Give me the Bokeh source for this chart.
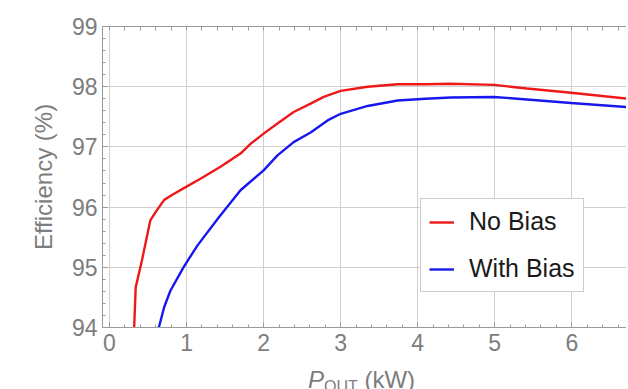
from bokeh.plotting import figure
from bokeh.models import (Range1d, LinearAxis, Legend, LegendItem, FixedTicker, Div)
from bokeh.layouts import column
from bokeh.embed import file_html
from bokeh.resources import INLINE

# ---- data ----
red_x = [0.32, 0.34, 0.42, 0.53, 0.60, 0.71, 0.81, 1.0, 1.18, 1.44, 1.70, 1.83, 2.0,
         2.18, 2.39, 2.61, 2.78, 3.0, 3.35, 3.74, 4.1, 4.43, 4.99, 5.42, 5.99, 6.74]
red_y = [94.0, 94.67, 95.11, 95.78, 95.92, 96.12, 96.2, 96.34, 96.47, 96.67, 96.89, 97.05, 97.22,
         97.39, 97.58, 97.72, 97.83, 97.93, 98.0, 98.04, 98.04, 98.05, 98.03, 97.97, 97.90, 97.80]
blue_x = [0.64, 0.71, 0.79, 0.96, 1.14, 1.42, 1.70, 2.0, 2.18, 2.39, 2.61, 2.83, 3.0,
          3.35, 3.74, 4.1, 4.43, 4.99, 5.5, 5.99, 6.74]
blue_y = [94.0, 94.34, 94.61, 95.0, 95.36, 95.83, 96.28, 96.61, 96.86, 97.08, 97.24, 97.44, 97.55,
          97.68, 97.77, 97.80, 97.82, 97.83, 97.78, 97.73, 97.66]
series_names = ["No Bias", "With Bias"]
x_ticks = [0, 1, 2, 3, 4, 5, 6]
y_ticks = [94, 95, 96, 97, 98, 99]

FONT = "Liberation Sans"
GREY = "#7d7d7d"
AXIS = "#9a9a9a"

W, H = 626, 362
p = figure(width=W, height=H, output_backend="svg", toolbar_location=None,
           x_range=Range1d(-0.091, 6.71), y_range=Range1d(94, 99),
           min_border_left=102, min_border_top=26, min_border_bottom=H - 327,
           min_border_right=0, outline_line_color=None)

r1 = p.line(red_x, red_y, line_color="#ee1818", line_width=2.4)
r2 = p.line(blue_x, blue_y, line_color="#1818ee", line_width=2.4)

for ax in (p.xaxis[0], p.yaxis[0]):
    ax.axis_line_color = AXIS
    ax.major_tick_line_color = AXIS
    ax.minor_tick_line_color = AXIS
    ax.major_tick_in = 5
    ax.major_tick_out = 0
    ax.minor_tick_in = 3
    ax.minor_tick_out = 0
    ax.major_label_text_font = FONT
    ax.major_label_text_color = GREY
    ax.major_label_text_font_size = "23px"

p.xaxis[0].ticker = FixedTicker(ticks=x_ticks,
                                minor_ticks=[t / 5 for t in range(-5, 36)])
p.yaxis[0].ticker = FixedTicker(ticks=y_ticks,
                                minor_ticks=[94 + t / 5 for t in range(0, 26)])
p.xaxis[0].major_label_standoff = 6
p.yaxis[0].major_label_standoff = 5
p.yaxis[0].axis_label = "Efficiency (%)"
p.yaxis[0].axis_label_text_font = FONT
p.yaxis[0].axis_label_text_font_style = "normal"
p.yaxis[0].axis_label_text_color = GREY
p.yaxis[0].axis_label_text_font_size = "24px"
p.yaxis[0].axis_label_standoff = 12

# top frame line with inward ticks only (no labels)
top = LinearAxis(ticker=FixedTicker(ticks=[], minor_ticks=[t / 5 for t in range(-5, 36)]),
                 axis_line_color=AXIS, major_tick_line_color=AXIS,
                 minor_tick_line_color=AXIS, major_tick_in=5, major_tick_out=0,
                 minor_tick_in=4, minor_tick_out=0,
                 major_label_standoff=0)
p.add_layout(top, "above")

p.xgrid.grid_line_color = "#cfcfcf"
p.ygrid.grid_line_color = "#cfcfcf"
p.xgrid.ticker = FixedTicker(ticks=x_ticks)
p.ygrid.ticker = FixedTicker(ticks=y_ticks)

legend = Legend(items=[LegendItem(label=series_names[0], renderers=[r1]),
                       LegendItem(label=series_names[1], renderers=[r2])],
                location=(318, 35), margin=0, padding=8, spacing=18,
                glyph_width=25, glyph_height=24, label_height=24, label_standoff=15,
                label_text_font=FONT, label_text_font_size="25px",
                label_text_color="#1a1a1a", border_line_color="#999999",
                border_line_width=1, background_fill_alpha=1)
p.add_layout(legend, "center")

# x-axis title "P_OUT (kW)" with subscript (partly cut off at the bottom, as in the reference)
xtitle = Div(
    text=('<span style="font-family:\'Liberation Sans\';font-size:24px;color:%s;'
          'white-space:nowrap;line-height:24px">'
          '<i>P</i><sub style="font-size:16px;vertical-align:-4px">OUT</sub>&nbsp;(kW)</span>') % GREY,
    width=200, height=26, margin=(6, 0, 0, 308),
    styles={"overflow": "hidden"})

layout = column(p, xtitle, spacing=0)
open("out.html", "w").write(file_html(layout, INLINE))
